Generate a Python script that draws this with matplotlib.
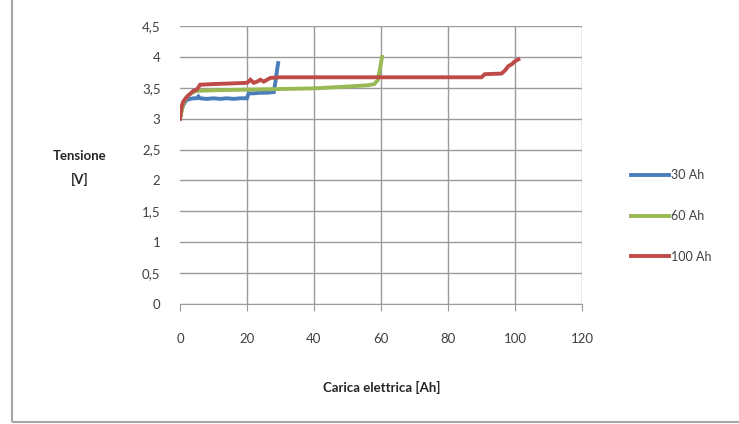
import numpy as np
import matplotlib
matplotlib.use("Agg")
from matplotlib import pyplot as plt
from matplotlib.patches import Rectangle

#_____________________________DATA_______________________________________#
# 30 Ah battery
x_30 = [0, 0.5, 1, 1.5, 2, 3, 4, 5, 5.5, 6, 8, 10, 12, 14, 16, 18, 20, 20.5, 22, 24, 26, 28, 28.5, 29, 29.3]
v_30 = [3.0, 3.15, 3.22, 3.27, 3.3, 3.32, 3.33, 3.33, 3.36, 3.33, 3.32, 3.33, 3.32, 3.33, 3.32, 3.33, 3.33, 3.41, 3.41, 3.42, 3.42, 3.43, 3.6, 3.8, 3.9]
# 60 Ah battery
x_60 = [0, 1, 2, 3, 4, 5, 10, 20, 30, 40, 50, 56, 58, 59, 59.5, 60, 60.3]
v_60 = [3.0, 3.25, 3.35, 3.4, 3.43, 3.45, 3.46, 3.47, 3.48, 3.49, 3.52, 3.54, 3.56, 3.62, 3.75, 3.9, 4.0]
# 100 Ah battery
x_100 = [0, 0.5, 1, 2, 3, 4, 5, 6, 10, 15, 20, 21, 22, 23, 24, 25, 27, 30, 60, 90, 91, 96, 97, 98, 99, 100, 101]
v_100 = [3.0, 3.2, 3.28, 3.35, 3.4, 3.45, 3.47, 3.55, 3.56, 3.57, 3.58, 3.63, 3.58, 3.6, 3.63, 3.6, 3.66, 3.67, 3.67, 3.67, 3.72, 3.73, 3.78, 3.85, 3.88, 3.93, 3.96]

series_labels = ["30 Ah", "60 Ah", "100 Ah"]
x_ticks = [0, 20, 40, 60, 80, 100, 120]
y_ticks = [0, 0.5, 1, 1.5, 2, 2.5, 3, 3.5, 4, 4.5]
y_tick_labels = ["0", "0,5", "1", "1,5", "2", "2,5", "3", "3,5", "4", "4,5"]

#_____________________________PLOT_______________________________________#
plt.rcParams['font.family'] = ['Lato', 'DejaVu Sans']
colors = ["#4A7EBB", "#98B954", "#BE4B48"]
grid_col = "#9A9A9A"
text_col = "#404040"

fig = plt.figure(figsize=(7.39, 4.24), dpi=100)
ax = fig.add_axes([180/739, 1 - 304/424, 402/739, 278/424])

lines = []
for xs, vs, c, lab in zip([x_30, x_60, x_100], [v_30, v_60, v_100], colors, series_labels):
    ln, = ax.plot(xs, vs, color=c, lw=2.8, label=lab, solid_joinstyle='miter')
    lines.append(ln)

ax.set_xlim(0, 120)
ax.set_ylim(0, 4.5)
ax.set_xticks(x_ticks)
ax.set_yticks(y_ticks)
ax.set_yticklabels(y_tick_labels)
ax.grid(True, color=grid_col, lw=1)
ax.xaxis.get_gridlines()[0].set_visible(False)  # no line at x = 0
ax.set_axisbelow(True)
for s in ["top", "left", "right"]:
    ax.spines[s].set_visible(False)
ax.spines["bottom"].set_color(grid_col)
ax.tick_params(axis='x', length=5, color=grid_col, pad=16, labelsize=9.5, labelcolor=text_col)
ax.tick_params(axis='y', length=0, pad=14, labelsize=9.5, labelcolor=text_col)

fig.text(80/739, 1 - 168/424, "Tensione\n[V]", ha='center', va='center',
         fontsize=9.5, fontweight='bold', color="#262626", linespacing=2.0)
fig.text(382/739, 1 - 387/424, "Carica elettrica [Ah]", ha='center', va='center',
         fontsize=9.5, fontweight='bold', color="#262626")

fig.legend(handles=lines, loc='center left', bbox_to_anchor=(620/739, 1 - 216/424),
           frameon=False, fontsize=9, handlelength=3.0, handletextpad=0.2,
           labelspacing=2.3, labelcolor=text_col)

# chart border
fig.patches.append(Rectangle((12/739, 2/424), 1, 1.2, transform=fig.transFigure,
                             fill=False, edgecolor="#A6A6A6", lw=1.5))

fig.savefig("out.png", dpi=100)
